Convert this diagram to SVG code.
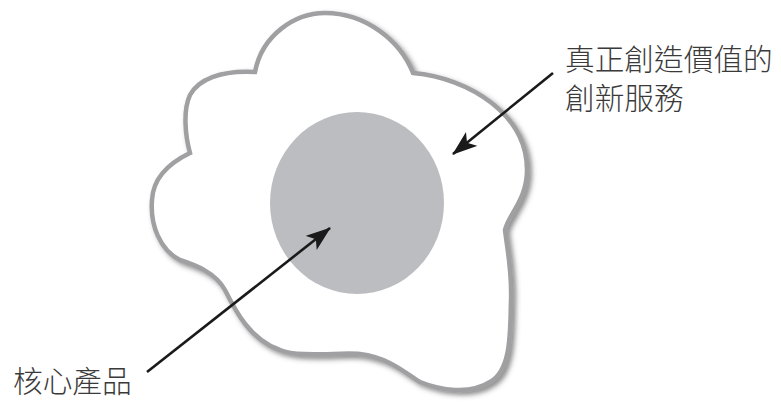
<svg xmlns="http://www.w3.org/2000/svg" width="781" height="402" viewBox="0 0 781 402">
<style>
.lbl{font-family:"Noto Sans CJK TC","Noto Sans CJK SC",sans-serif;font-size:29.7px;font-weight:300;fill:#3a3a3a}
.conn{stroke:#1a1a1a;stroke-width:2.6;fill:none}
</style>
<defs>
<filter id="sh" x="-10%" y="-10%" width="125%" height="125%">
<feDropShadow dx="3" dy="3" stdDeviation="2.5" flood-color="#444" flood-opacity="0.6"/>
</filter>
<marker id="ah" markerUnits="userSpaceOnUse" markerWidth="28" markerHeight="20" refX="24" refY="9" orient="auto">
<path d="M0,0 L25,9 L0,18 L6,9 Z" fill="#1a1a1a"/>
</marker>
</defs>
<rect width="781" height="402" fill="#fff"/>
<g id="service">
<path filter="url(#sh)" fill="#fff" stroke="#a0a0a2" stroke-width="4.5" d="M 255,72 C 262,35 295,13 325,13 C 365,13 400,40 413,73 C 470,78 527,115 527,170 C 527,200 508,215 505,230 C 508,255 512,270 511,300 C 510,330 512,370 490,382 C 470,395 440,390 420,382 C 405,373 390,358 360,354 C 340,352 300,358 280,350 C 250,340 235,310 225,290 C 215,272 195,265 180,260 C 160,250 150,225 152,200 C 153,180 165,165 190,153 C 185,135 183,110 190,95 C 198,80 220,70 255,72 Z"/>
</g>
<g id="core">
<ellipse cx="357" cy="203" rx="87" ry="91" fill="#bcbdc1"/>
</g>
<g id="connectors">
<line class="conn" x1="553" y1="73" x2="453" y2="154" marker-end="url(#ah)"/>
<line class="conn" x1="147" y1="372" x2="330" y2="228" marker-end="url(#ah)"/>
</g>
<g id="label-service">
<text class="lbl" x="565" y="70">真正創造價值的</text>
<text class="lbl" x="565" y="109">創新服務</text>
</g>
<g id="label-core">
<text class="lbl" x="13" y="392">核心產品</text>
</g>
</svg>
